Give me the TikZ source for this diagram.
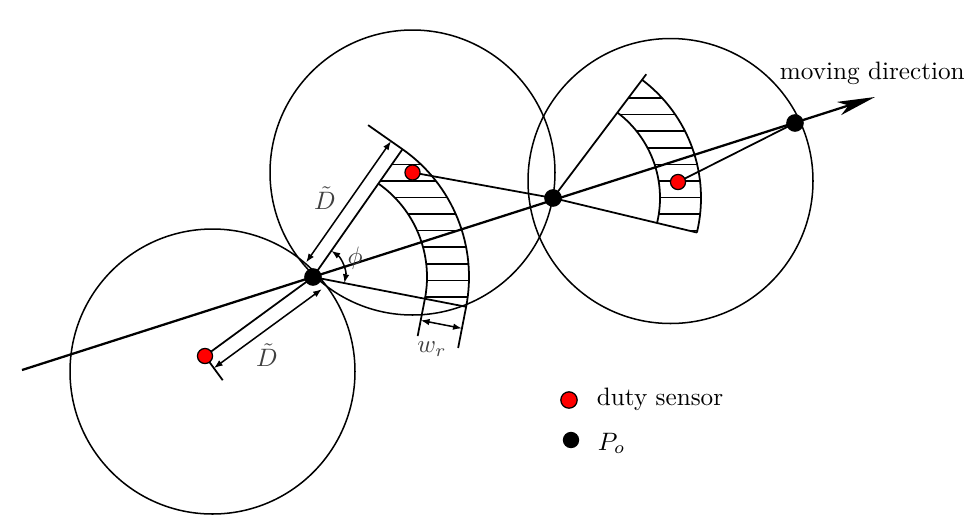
\documentclass[tikz,border=0pt]{standalone}
\usetikzlibrary{arrows.meta,calc}
\begin{document}
\begin{tikzpicture}[x=0.397pt,y=-0.397pt,line width=0.7pt,
  sensor/.style={circle,draw=black,fill=red,line width=0.5pt,inner sep=0pt,minimum size=6pt},
  podot/.style={circle,fill=black,inner sep=0pt,minimum size=7pt},
  dimarrow/.style={{Latex[length=3.5pt,width=2.6pt]}-{Latex[length=3.5pt,width=2.6pt]},line width=0.6pt},
  hatch/.style={line width=0.6pt},
  lbl/.style={text=black!75,inner sep=0pt},
  txt/.style={inner sep=0pt,anchor=base west}]
\useasboundingbox (0,0) rectangle (973,516);
\clip (0,0) rectangle (973,516);
% key points
\coordinate (S1) at (205,356);
\coordinate (S2) at (412.5,172.5);
\coordinate (S3) at (678,182);
\coordinate (P1) at (313,277);
\coordinate (P2) at (553,198);
\coordinate (P3) at (795,123);
\coordinate (L0) at (22,370);
\coordinate (L1) at (875,97);
% circles
\draw[line width=0.6pt] (212.5,371.5) circle[radius=56.57pt];
\draw[line width=0.6pt] (412.5,172.5) circle[radius=56.57pt];
\draw[line width=0.6pt] (670.5,181) circle[radius=56.57pt];
% sector 1
\coordinate (E1u) at ($(P1)+(-55:156)$);
\coordinate (E1l) at ($(P1)+(11:156)$);
\coordinate (I1u) at ($(P1)+(-55:114)$);
\coordinate (I1l) at ($(P1)+(11:114)$);
\begin{scope}
\clip (I1u) -- (E1u) arc[start angle=55,end angle=-11,radius=61.93pt] -- (I1l) arc[start angle=-11,end angle=55,radius=45.26pt] -- cycle;
\foreach \k in {0,...,12} \draw[hatch] (280,98+16.58*\k) -- (740,98+16.58*\k);
\end{scope}
\draw (P1) -- (E1u);
\draw (P1) -- (E1l);
\draw (E1u) arc[start angle=55,end angle=-11,radius=61.93pt];
\draw (I1u) arc[start angle=55,end angle=-11,radius=45.26pt];
% sector 2
\coordinate (E2u) at ($(P2)+(-53:148)$);
\coordinate (E2x) at ($(P2)+(-53:155)$);
\coordinate (E2l) at ($(P2)+(13.5:148)$);
\coordinate (I2u) at ($(P2)+(-53:107)$);
\coordinate (I2l) at ($(P2)+(13.5:107)$);
\begin{scope}
\clip (I2u) -- (E2u) arc[start angle=53,end angle=-13.5,radius=58.76pt] -- (I2l) arc[start angle=-13.5,end angle=53,radius=42.48pt] -- cycle;
\foreach \k in {0,...,12} \draw[hatch] (280,98+16.58*\k) -- (740,98+16.58*\k);
\end{scope}
\draw (P2) -- (E2x);
\draw (P2) -- (E2l);
\draw (E2u) arc[start angle=53,end angle=-13.5,radius=58.76pt];
\draw (I2u) arc[start angle=53,end angle=-13.5,radius=42.48pt];
% sensor to next point
\draw (S1) -- (P1);
\draw (S2) -- (P2);
\draw (S3) -- (P3);
% moving direction
\draw[line width=0.9pt,-{Stealth[length=15pt,width=5.5pt,inset=4pt]}] (L0) -- (L1);
% dimension D upper
\draw (E1u) -- ($(E1u)+(-145:42)$);
\draw[dimarrow] ($(P1)+(-145:14)+(-55:8)$) -- ($(E1u)+(-145:14)$);
% dimension D lower
\draw ($(S1)+(53.8:6)$) -- ($(S1)+(53.8:30)$);
\draw[dimarrow] ($(S1)+(53.8:15)$) -- ($(P1)+(53.8:15)$);
% w_r
\draw (I1l) -- ($(I1l)+(101:38)$);
\draw (E1l) -- ($(E1l)+(101:42)$);
\draw[dimarrow] ($(I1l)+(101:22)$) -- ($(E1l)+(101:22)$);
% phi
\draw[dimarrow] ($(P1)+(-55:32)$) arc[start angle=55,end angle=-11,radius=12.7pt];
% labels
\node[lbl] (dup) at (325,198) {$\tilde{D}$};
\node[lbl] (dlo) at (267,355) {$\tilde{D}$};
\node[lbl] (phi) at (355,258) {$\phi$};
\node[lbl] (wr) at (432,349) {$w_r$};
\node[txt] (mov) at (779,79) {moving direction};
% dots
\node[sensor] (s1) at (S1) {};
\node[sensor] (s2) at (S2) {};
\node[sensor] (s3) at (S3) {};
\node[podot] (p1) at (P1) {};
\node[podot] (p2) at (P2) {};
\node[podot] (p3) at (P3) {};
% legend
\node[sensor,minimum size=6.5pt] (legS) at (569,400) {};
\node[txt] (legStext) at (596,405) {duty sensor};
\node[podot,minimum size=6.5pt] (legP) at (571,440) {};
\node[txt] (legPtext) at (597,450) {$P_o$};
\end{tikzpicture}
\end{document}
